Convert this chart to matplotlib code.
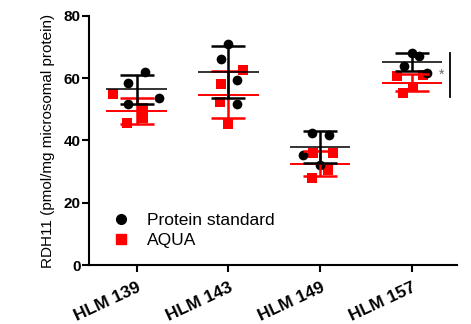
import matplotlib
matplotlib.use("Agg")
import matplotlib.pyplot as plt
import numpy as np

plt.rcParams['font.family'] = ['Liberation Sans', 'DejaVu Sans']

# RDH11 abundance per liver microsome lot, two quantification methods
samples = ["HLM 139", "HLM 143", "HLM 149", "HLM 157"]

protein_std = [
    [62.0, 58.4, 53.6, 51.7],
    [71.0, 66.1, 59.5, 51.7],
    [42.3, 41.8, 35.4, 32.0],
    [68.1, 67.0, 64.0, 61.6],
]
aqua = [
    [54.9, 50.4, 47.2, 45.6],
    [62.7, 58.1, 52.5, 45.2],
    [35.9, 35.9, 30.5, 27.9],
    [60.8, 61.1, 57.3, 55.2],
]

# horizontal scatter of the individual points around each group
protein_jitter = [
    [0.09, -0.09, 0.24, -0.10],
    [0.00, -0.08, 0.09, 0.09],
    [-0.09, 0.10, -0.19, 0.00],
    [0.00, 0.08, -0.09, 0.16],
]
aqua_jitter = [
    [-0.26, 0.07, 0.07, -0.11],
    [0.16, -0.08, -0.09, 0.00],
    [-0.08, 0.14, 0.08, -0.09],
    [-0.16, 0.12, 0.01, -0.10],
]

fig = plt.figure(figsize=(4.71, 3.24), dpi=100)
ax = fig.add_axes([0.189, 0.182, 0.781, 0.769])

x = np.arange(len(samples))
half_mean = 0.33

for i in range(len(samples)):
    for vals, jit, color, marker, ms, z in [
        (protein_std[i], protein_jitter[i], "black", "o", 7, 4),
        (aqua[i], aqua_jitter[i], "#ff0000", "s", 6.5, 3),
    ]:
        vals = np.array(vals)
        m = vals.mean()
        sd = vals.std(ddof=1)
        ax.plot(x[i] + np.array(jit), vals, linestyle="none", marker=marker,
                color=color, markersize=ms, markeredgewidth=0, zorder=z)
        ax.hlines(m, x[i] - half_mean, x[i] + half_mean, color=color,
                  linewidth=1.4, zorder=z + 1, alpha=0.8 if color == "black" else 1)
        ax.errorbar(x[i], m, yerr=sd, fmt="none", ecolor=color, elinewidth=1.8,
                    capsize=12, capthick=1.8, zorder=z + 1)

# significance marker for HLM 157
ax.plot([3.42, 3.42], [54.1, 68.2], color="black", linewidth=1.3, clip_on=False)
ax.text(3.32, 61.1, "*", fontsize=10, color="#666666", ha="center", va="center")

ax.set_xlim(-0.52, 3.49)
ax.set_ylim(0, 80)
ax.set_yticks([0, 20, 40, 60, 80])
ax.set_xticks(x)
ax.set_xticklabels(samples, rotation=25, ha="right", rotation_mode="anchor",
                   fontweight="bold", fontsize=12.5)
for lbl in ax.get_yticklabels():
    lbl.set_fontweight("bold")
    lbl.set_fontsize(11)

ax.spines["top"].set_visible(False)
ax.spines["right"].set_visible(False)
for s in ("left", "bottom"):
    ax.spines[s].set_linewidth(1.5)
ax.tick_params(width=1.5, length=5, direction="out", pad=1)
ax.tick_params(axis="x", pad=6)

ax.set_ylabel("RDH11 (pmol/mg microsomal protein)", fontsize=11, labelpad=6)

ax.plot([], [], "o", color="black", markersize=7, label="Protein standard")
ax.plot([], [], "s", color="#ff0000", markersize=6.5, label="AQUA")
ax.legend(loc="lower left", bbox_to_anchor=(0.015, 0.005), frameon=False,
          fontsize=12.5, handletextpad=0.9, handlelength=1.2, labelspacing=0.3)

fig.savefig("out.png", dpi=100)
